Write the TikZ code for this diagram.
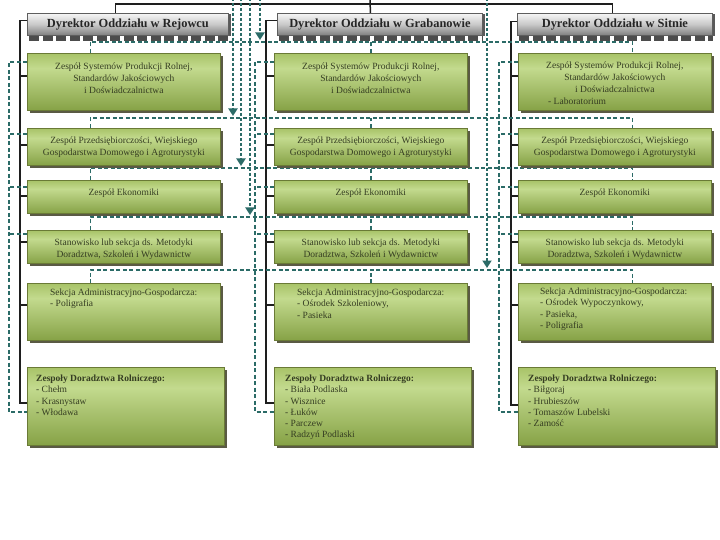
\documentclass[tikz,border=0pt]{standalone}
\usepackage{fontspec}
\setmainfont{Liberation Serif}
\usetikzlibrary{arrows.meta,shadows}
\definecolor{gT}{HTML}{A8C368}
\definecolor{gL}{HTML}{C3DA8E}
\definecolor{gB}{HTML}{86A246}
\definecolor{gE}{HTML}{6A7A36}
\definecolor{gS}{HTML}{5A5A44}
\definecolor{hT}{HTML}{F6F6F6}
\definecolor{hM}{HTML}{C8C8C8}
\definecolor{hB}{HTML}{7E7E7E}
\definecolor{hE}{HTML}{5E5E5E}
\definecolor{dteal}{HTML}{2B6B67}
\definecolor{tcol}{HTML}{353D22}
\definecolor{dtxt}{HTML}{262626}
\definecolor{blk}{HTML}{1E1E1E}
\pgfdeclareverticalshading{greenbox}{100bp}{color(0bp)=(gB); color(25bp)=(gB); color(62bp)=(gL); color(75bp)=(gT); color(100bp)=(gT)}
\pgfdeclareverticalshading{greybox}{100bp}{color(0bp)=(hB); color(25bp)=(hB); color(50bp)=(hM); color(75bp)=(hT); color(100bp)=(hT)}
\pgfdeclarelayer{back}
\pgfdeclarelayer{bg}
\pgfsetlayers{back,bg,main}
\tikzset{
  gbox/.style={draw=gE, line width=0.7pt, shade, shading=greenbox, anchor=north west, inner sep=0pt,
    minimum width=193pt, drop shadow={shadow xshift=2.5pt, shadow yshift=-2.5pt, fill=gS, opacity=1}},
  dbox/.style={draw=hE, line width=0.8pt, shade, shading=greybox, anchor=north west, inner sep=0pt,
    minimum height=22pt, text=dtxt, font=\fontsize{12.4}{14}\selectfont\bfseries,
    drop shadow={shadow xshift=2.5pt, shadow yshift=-1pt, fill=gray!70!black, opacity=1}},
  teeth/.style={line width=6pt, draw=gray!60!black, dash pattern=on 10pt off 3.5pt},
  blkline/.style={draw=blk, line width=1.5pt},
  dsh/.style={draw=dteal, line width=1.7pt, dash pattern=on 4pt off 2.5pt},
  dsharrow/.style={draw=dteal, line width=2pt, dash pattern=on 3pt off 2pt,
    -{Triangle[width=9pt,length=7.5pt]}},
  ctxt/.style={anchor=north, align=center, inner sep=0pt, font=\fontsize{9.5}{11.8}\selectfont, text=tcol},
  ltxt/.style={anchor=north west, align=left, inner sep=0pt, font=\fontsize{9.5}{11.2}\selectfont, text=tcol}
}
\begin{document}
\begin{tikzpicture}[x=1pt,y=-1pt]
\useasboundingbox (0,0) rectangle (720,540);
\begin{pgfonlayer}{back}
\fill[white] (0,0) rectangle (720,540);
\end{pgfonlayer}
% free ends
\coordinate (topc) at (370,-2);
\coordinate (a0s) at (260,-2); \coordinate (a0e) at (260,40);
\coordinate (a1s) at (233,-2); \coordinate (a1e) at (233,116);
\coordinate (a2s) at (241,-2); \coordinate (a2e) at (241,166);
\coordinate (a3s) at (250,-2); \coordinate (a3e) at (250,215);
\coordinate (a4s) at (487,-2); \coordinate (a4e) at (487,268);

% director teeth shadows
\draw[teeth] (29,38.5) -- (228,38.5);
\draw[teeth] (279,38.5) -- (482,38.5);
\draw[teeth] (519,38.5) -- (713,38.5);

% ---------- director boxes ----------
\node[dbox, minimum width=201pt] (d1) at (27,13) {Dyrektor Oddziału w Rejowcu};
\node[dbox, minimum width=205pt] (d2) at (277,13) {Dyrektor Oddziału w Grabanowie};
\node[dbox, minimum width=195pt] (d3) at (517,13) {Dyrektor Oddziału w Sitnie};

% ---------- green boxes ----------
\foreach \c/\x in {1/27,2/274,3/518}{
  \node[gbox, minimum height=57pt] (b\c1) at (\x,53) {};
  \node[gbox, minimum height=37pt] (b\c2) at (\x,128) {};
  \node[gbox, minimum height=33pt] (b\c3) at (\x,180) {};
  \node[gbox, minimum height=33pt] (b\c4) at (\x,230) {};
  \node[gbox, minimum height=57pt] (b\c5) at (\x,283) {};
  \node[gbox, minimum height=78pt, minimum width=197pt] (b\c6) at (\x,367) {};
}

% ---------- texts ----------
\foreach \c in {1,2,3}{
  \node[ctxt] (t\c2) at ([yshift=-9pt]b\c2.north) {Zespół Przedsiębiorczości, Wiejskiego\\Gospodarstwa Domowego i Agroturystyki};
  \node[ctxt] (t\c3) at ([yshift=-9pt]b\c3.north) {Zespół Ekonomiki};
  \node[ctxt] (t\c4) at ([yshift=-9pt]b\c4.north) {Stanowisko lub sekcja ds. Metodyki\\Doradztwa, Szkoleń i Wydawnictw};
}
\node[ctxt] (t11) at ([yshift=-10pt]b11.north) {Zespół Systemów Produkcji Rolnej,\\Standardów Jakościowych\\i Doświadczalnictwa};
\node[ctxt] (t21) at ([yshift=-10pt]b21.north) {Zespół Systemów Produkcji Rolnej,\\Standardów Jakościowych\\i Doświadczalnictwa};
\node[ctxt] (t31) at ([yshift=-9pt]b31.north) {Zespół Systemów Produkcji Rolnej,\\Standardów Jakościowych\\i Doświadczalnictwa};
\node[ltxt] (t31b) at ([xshift=30pt,yshift=-45pt]b31.north west) {- Laboratorium};

\node[ltxt] (t15) at ([xshift=23pt,yshift=-6pt]b15.north west) {Sekcja Administracyjno-Gospodarcza:\\- Poligrafia};
\node[ltxt] (t25) at ([xshift=23pt,yshift=-6pt]b25.north west) {Sekcja Administracyjno-Gospodarcza:\\- Ośrodek Szkoleniowy,\\- Pasieka};
\node[ltxt] (t35) at ([xshift=22pt,yshift=-5pt]b35.north west) {Sekcja Administracyjno-Gospodarcza:\\- Ośrodek Wypoczynkowy,\\- Pasieka,\\- Poligrafia};

\node[ltxt] (t16) at ([xshift=9pt,yshift=-8pt]b16.north west) {\textbf{Zespoły Doradztwa Rolniczego:}\\- Chełm\\- Krasnystaw\\- Włodawa};
\node[ltxt] (t26) at ([xshift=11pt,yshift=-8pt]b26.north west) {\textbf{Zespoły Doradztwa Rolniczego:}\\- Biała Podlaska\\- Wisznice\\- Łuków\\- Parczew\\- Radzyń Podlaski};
\node[ltxt] (t36) at ([xshift=10pt,yshift=-8pt]b36.north west) {\textbf{Zespoły Doradztwa Rolniczego:}\\- Biłgoraj\\- Hrubieszów\\- Tomaszów Lubelski\\- Zamość};

% ---------- connectors ----------
\begin{pgfonlayer}{bg}
% top black line
\draw[blkline] ([xshift=-12.5pt]d1.north) -- ++(0,-9) -| ([xshift=-2.5pt]d3.north);
\draw[blkline] (topc) -- ([xshift=-9.5pt]d2.north);
% black spines
\draw[blkline] ([yshift=4pt]d1.west) -- ++(-7,0) |- ([yshift=-36pt]b16.north west);
\draw[blkline] ([yshift=4pt]d2.west) -- ++(-11,0) |- ([yshift=-36pt]b26.north west);
\draw[blkline] ([yshift=3pt]d3.west) -- ++(-6,0) |- ([yshift=-38pt]b36.north west);
\foreach \c/\l in {1/7,2/8,3/7}{
  \draw[blkline] ([yshift=-23pt]b\c1.north west) -- ++(-\l,0);
  \draw[blkline] ([yshift=-17pt]b\c2.north west) -- ++(-\l,0);
  \draw[blkline] ([yshift=-16pt]b\c3.north west) -- ++(-\l,0);
  \draw[blkline] ([yshift=-12pt]b\c4.north west) -- ++(-\l,0);
  \draw[blkline] ([yshift=-22pt]b\c5.north west) -- ++(-\l,0);
}
% dashed spines
\foreach \c/\l in {1/18,2/19,3/19}{
  \draw[dsh] ([yshift=-9pt]b\c1.north west) -- ++(-\l,0) |- ([yshift=-45pt]b\c6.north west);
  \draw[dsh] ([yshift=-6pt]b\c2.north west) -- ++(-\l,0);
  \draw[dsh] ([yshift=-7pt]b\c3.north west) -- ++(-\l,0);
  \draw[dsh] ([yshift=-4pt]b\c4.north west) -- ++(-\l,0);
}
% dashed row lines
\foreach \r/\h in {1/11,2/10,3/12,4/13,5/13}{
  \draw[dsh] ([xshift=-33.5pt]b1\r.north) -- ++(0,-\h) -| ([xshift=17.5pt]b3\r.north);
  \draw[dsh] (b2\r.north) -- ++(0,-\h);
}
% arrows from above
\draw[dsharrow] (a0s) -- (a0e);
\draw[dsharrow] (a1s) -- (a1e);
\draw[dsharrow] (a2s) -- (a2e);
\draw[dsharrow] (a3s) -- (a3e);
\draw[dsharrow] (a4s) -- (a4e);
\end{pgfonlayer}
\end{tikzpicture}
\end{document}
